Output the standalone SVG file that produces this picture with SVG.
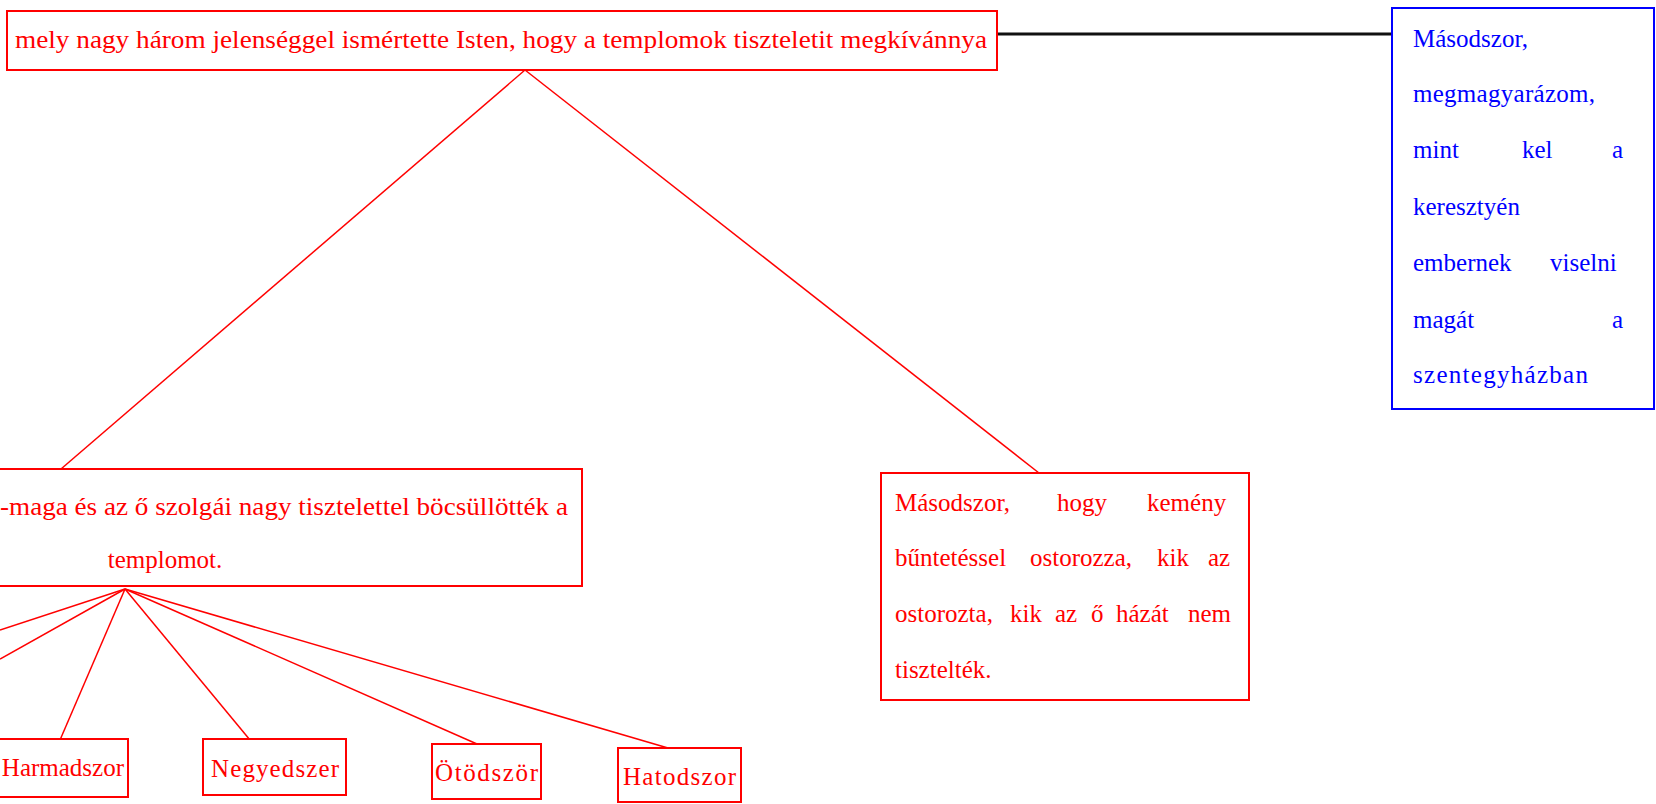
<svg xmlns="http://www.w3.org/2000/svg" width="1656" height="804" viewBox="0 0 1656 804">
<style>
.r{fill:#fff;stroke:#ff0000;stroke-width:2}
.b{fill:#fff;stroke:#0000ff;stroke-width:2}
.t{font-family:"Liberation Serif","Times New Roman",serif;font-size:25px;fill:#ff0000}
.tb{font-family:"Liberation Serif","Times New Roman",serif;font-size:25px;fill:#0000ff}
.e{stroke:#ff0000;stroke-width:1.5;fill:none}
</style>
<rect width="1656" height="804" fill="#fff"/>
<g id="connectors">
<line x1="997" y1="34" x2="1392" y2="34" stroke="#111" stroke-width="3"/>
<line class="e" x1="525" y1="70" x2="61" y2="469"/>
<line class="e" x1="525" y1="70" x2="1039" y2="473"/>
<line class="e" x1="125" y1="589" x2="0" y2="630"/>
<line class="e" x1="125" y1="589" x2="0" y2="659"/>
<line class="e" x1="125" y1="589" x2="60" y2="740"/>
<line class="e" x1="125" y1="589" x2="250" y2="740"/>
<line class="e" x1="125" y1="589" x2="477" y2="744"/>
<line class="e" x1="125" y1="589" x2="668" y2="748"/>
</g>
<g id="n-root">
<rect class="r" x="7" y="11" width="990" height="59"/>
<text class="t" x="15" y="48" textLength="972" lengthAdjust="spacingAndGlyphs">mely nagy három jelenséggel ismértette Isten, hogy a templomok tiszteletit megkívánnya</text>
</g>
<g id="n-blue">
<rect class="b" x="1392" y="8" width="262" height="401"/>
<text class="tb" x="1413" y="47">Másodszor,</text>
<text class="tb" x="1413" y="102" textLength="182" lengthAdjust="spacing">megmagyarázom,</text>
<text class="tb" y="158"><tspan x="1413">mint</tspan><tspan x="1522">kel</tspan><tspan x="1612">a</tspan></text>
<text class="tb" x="1413" y="215">keresztyén</text>
<text class="tb" y="271"><tspan x="1413">embernek</tspan><tspan x="1550">viselni</tspan></text>
<text class="tb" y="328"><tspan x="1413">magát</tspan><tspan x="1612">a</tspan></text>
<text class="tb" x="1413" y="383" textLength="175" lengthAdjust="spacing">szentegyházban</text>
</g>
<g id="n-left">
<rect class="r" x="-10" y="469" width="592" height="117"/>
<text class="t" x="0" y="515" textLength="568" lengthAdjust="spacingAndGlyphs">-maga és az ő szolgái nagy tisztelettel böcsüllötték a</text>
<text class="t" x="165" y="568" text-anchor="middle">templomot.</text>
</g>
<g id="n-right">
<rect class="r" x="881" y="473" width="368" height="227"/>
<text class="t" y="511"><tspan x="895">Másodszor,</tspan><tspan x="1057">hogy</tspan><tspan x="1147">kemény</tspan></text>
<text class="t" y="566"><tspan x="895">bűntetéssel</tspan><tspan x="1030">ostorozza,</tspan><tspan x="1157">kik</tspan><tspan x="1208">az</tspan></text>
<text class="t" y="622"><tspan x="895">ostorozta,</tspan><tspan x="1010">kik</tspan><tspan x="1055">az</tspan><tspan x="1091">ő</tspan><tspan x="1116">házát</tspan><tspan x="1188">nem</tspan></text>
<text class="t" x="895" y="678">tisztelték.</text>
</g>
<g id="n-harmadszor">
<rect class="r" x="-20" y="739" width="148" height="58"/>
<text class="t" x="124" y="776" text-anchor="end">Harmadszor</text>
</g>
<g id="n-negyedszer">
<rect class="r" x="203" y="739" width="143" height="56"/>
<text class="t" x="211" y="777" textLength="128" lengthAdjust="spacing">Negyedszer</text>
</g>
<g id="n-otodszor">
<rect class="r" x="432" y="744" width="109" height="55"/>
<text class="t" x="435" y="781" textLength="103" lengthAdjust="spacing">Ötödször</text>
</g>
<g id="n-hatodszor">
<rect class="r" x="618" y="748" width="123" height="54"/>
<text class="t" x="623" y="785" textLength="113" lengthAdjust="spacing">Hatodszor</text>
</g>
</svg>
